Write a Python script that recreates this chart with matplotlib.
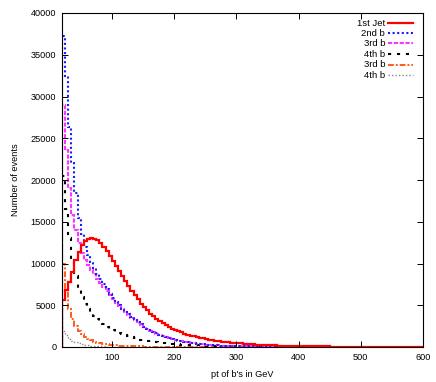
import numpy as np
import matplotlib
matplotlib.use('Agg')
import matplotlib.pyplot as plt
from matplotlib.lines import Line2D

plt.rcParams['font.family'] = ['Liberation Sans', 'DejaVu Sans']

BIN_START = 20
BIN_WIDTH = 5

# counts per 5 GeV bin, starting at 20 GeV
jet1 = [5600, 6800, 7800, 9000, 10400, 11400, 12200, 12700, 12900, 13000,
        12950, 12800, 12500, 12000, 11500, 10900, 10300, 9700, 9100, 8500,
        7900, 7300, 6700, 6200, 5700, 5200, 4800, 4400, 4000, 3700,
        3400, 3100, 2850, 2600, 2400, 2200, 2050, 1900, 1750, 1600,
        1480, 1370, 1270, 1180, 1100, 1020, 950, 880, 820, 760,
        700, 650, 600, 560, 520, 480, 450, 420, 390, 360,
        335, 310, 290, 270, 250, 235, 220, 205, 190, 178,
        166, 155, 145, 135, 126, 118, 110, 103, 96, 90,
        84, 78, 73, 68, 64, 60, 56, 52, 49, 46,
        43, 40, 38, 35, 33, 31, 29, 27, 25, 24,
        22, 21, 20, 18, 17, 16, 15, 14, 13, 12,
        12, 11, 10, 10, 9, 9]
b2 = [37300, 32500, 26300, 22000, 18400, 15500, 13500, 12000, 11000, 10200,
      9500, 8800, 8100, 7500, 6900, 6400, 5900, 5400, 5000, 4600,
      4200, 3900, 3600, 3300, 3000, 2700, 2450, 2200, 2000, 1800,
      1620, 1460, 1310, 1180, 1060, 950, 860, 770, 690, 620,
      560, 500, 450, 410, 370, 330, 300, 270, 240, 215,
      195, 175, 158, 142, 128, 115, 104, 94, 85, 76,
      68, 61, 55, 50, 45, 40, 36, 32, 29, 26,
      23, 21, 19, 17, 15, 13, 12, 11, 10, 9,
      8, 7, 6, 5, 5, 4]
b3 = [29000, 23600, 19000, 15800, 14000, 12500, 11300, 10400, 9800, 9200,
      8700, 8200, 7700, 7200, 6700, 6200, 5800, 5300, 4900, 4500,
      4150, 3800, 3500, 3200, 2900, 2650, 2400, 2180, 1970, 1780,
      1600, 1440, 1300, 1170, 1050, 940, 850, 760, 680, 610,
      550, 490, 440, 400, 360, 320, 290, 260, 235, 210,
      190, 170, 153, 138, 124, 112, 101, 91, 82, 74,
      66, 59, 53, 48, 43, 39, 35, 31, 28, 25,
      22, 20, 18, 16, 14, 13, 12, 10, 9, 8,
      7, 6, 6, 5, 4, 4]
b4 = [20500, 16500, 13000, 10500, 8500, 7000, 6000, 5200, 4600, 4100,
      3700, 3300, 3000, 2700, 2450, 2200, 2000, 1800, 1650, 1500,
      1380, 1260, 1150, 1050, 960, 880, 800, 730, 670, 610,
      560, 510, 470, 430, 400, 370, 340, 310, 285, 260,
      240, 220, 200, 185, 170, 155, 142, 130, 120, 110,
      100, 92, 84, 77, 70, 64, 59, 54, 49, 45,
      41, 37, 34, 31, 28, 26, 24, 22, 20, 18,
      16, 15, 13, 12, 11, 10]
b3_alt = [10000, 6800, 4500, 3300, 2500, 1900, 1500, 1200, 950, 780,
          640, 520, 430, 360, 300, 250, 210, 180, 155, 135,
          115, 100, 88, 77, 68, 60, 53, 47, 42, 37,
          33, 29, 26, 23, 21, 19, 17, 15, 13, 12,
          11, 10, 9, 8, 7, 6, 6, 5, 5, 4,
          4, 3, 3, 3, 2, 2]
b4_alt = [1900, 1400, 1000, 750, 580, 450, 350, 280, 220, 170,
          140, 110, 90, 70, 55, 45, 36, 30, 25, 21,
          18, 15, 13, 11, 9, 8, 7, 6, 5, 4,
          4, 3, 3, 3, 2, 2, 2, 2, 1, 1,
          1, 1, 1, 1, 1, 1]

series = [
    ('1st Jet', jet1, '#ff0000', '-', 1.6),
    ('2nd b', b2, '#1a1aff', (0, (1, 1.2)), 1.5),
    ('3rd b', b3, '#ff33ff', (0, (2, 0.8)), 1.5),
    ('4th b', b4, '#000000', (0, (1.5, 2.8)), 1.5),
    ('3rd b', b3_alt, '#ff5a1a', (0, (3, 1, 1, 1)), 1.4),
    ('4th b', b4_alt, '#888888', (0, (1, 1.5)), 1.0),
]

fig = plt.figure(figsize=(4.36, 3.82), dpi=100)
ax = fig.add_axes([62 / 436, 35 / 382, 361 / 436, 334 / 382])

# draw in reverse so the red jet is on top
for name, vals, color, ls, lw in reversed(series):
    edges = BIN_START + BIN_WIDTH * np.arange(len(vals) + 1)
    ax.stairs(vals, edges, baseline=0, color=color, linestyle=ls, linewidth=lw)

ax.set_xlim(20, 600)
ax.set_ylim(0, 40000)
ax.set_xticks([100, 200, 300, 400, 500, 600])
ax.set_yticks(np.arange(0, 40001, 5000))
ax.tick_params(direction='in', length=4, width=0.7, labelsize=6.6,
               top=True, right=True, pad=4)
for sp in ax.spines.values():
    sp.set_linewidth(0.8)

ax.set_xlabel("pt of b's in GeV", fontsize=6.6, labelpad=6)
ax.set_ylabel('Number of events', fontsize=6.6, labelpad=8)

# gnuplot-style key: right-justified text, sample to the right
row_y = [0.970, 0.940, 0.909, 0.877, 0.845, 0.813]
for (name, vals, color, ls, lw), yy in zip(series, row_y):
    ax.text(0.895, yy, name, transform=ax.transAxes, ha='right', va='center',
            fontsize=6.8)
    ax.add_line(Line2D([0.903, 0.972], [yy, yy], transform=ax.transAxes,
                       color=color, linestyle=ls, linewidth=lw))

fig.savefig('out.png', dpi=100)
